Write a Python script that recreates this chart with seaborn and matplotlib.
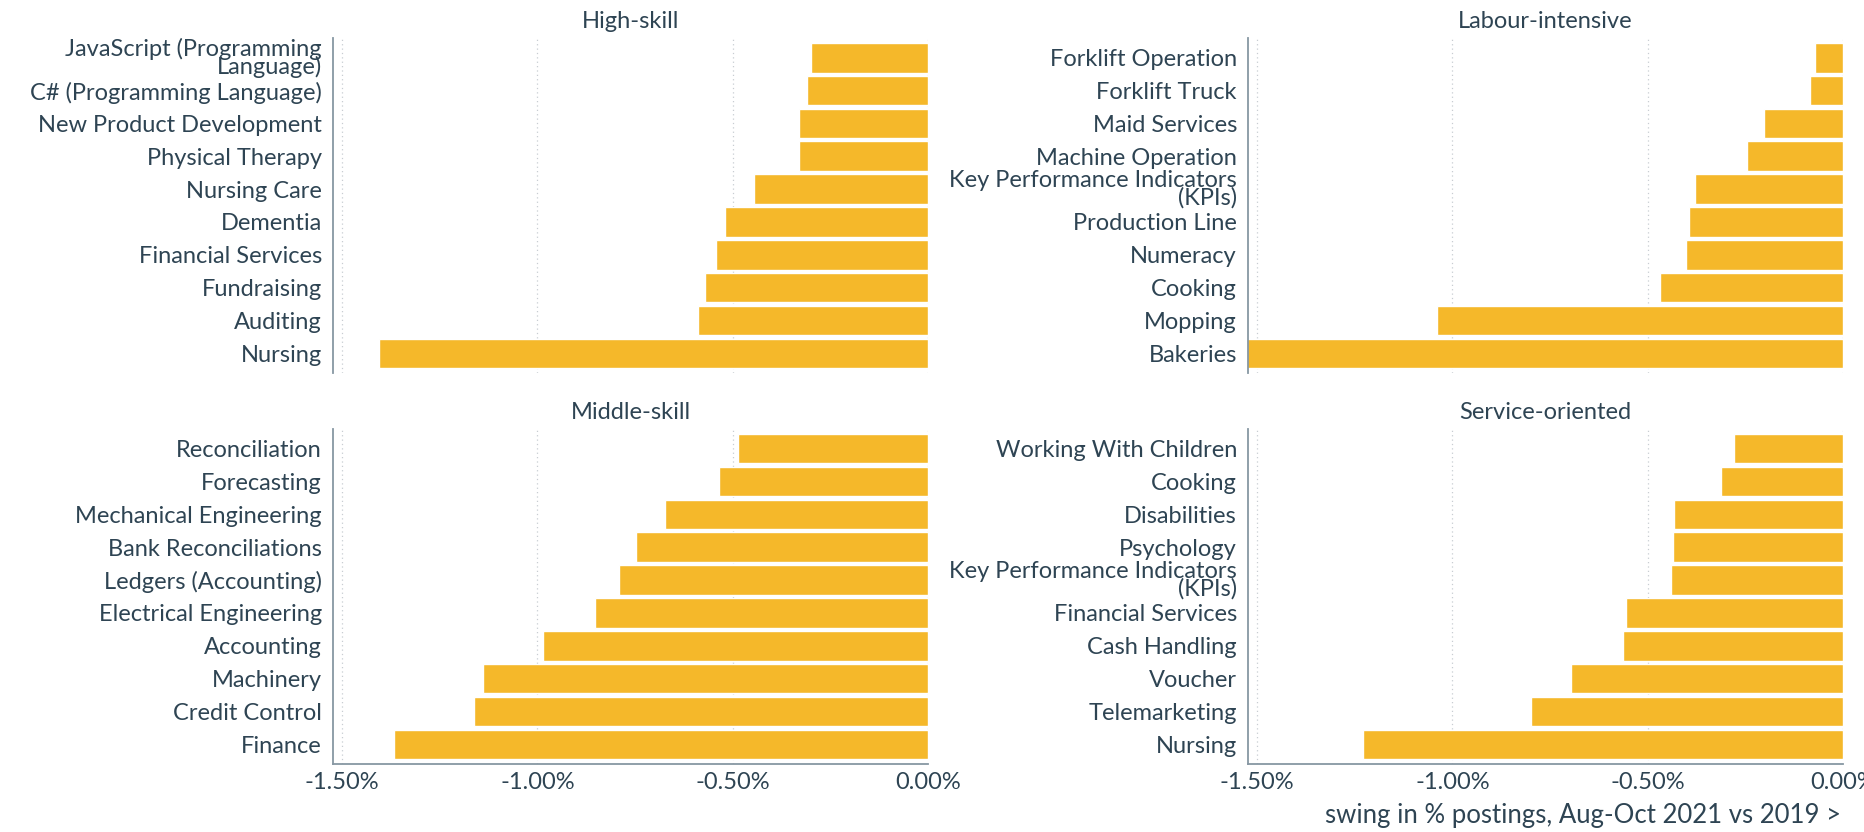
import matplotlib
matplotlib.use("Agg")
import matplotlib.pyplot as plt
import seaborn as sns
import pandas as pd

# ---- data ----
high_skill_labels = ["JavaScript (Programming\nLanguage)", "C# (Programming Language)",
                     "New Product Development", "Physical Therapy", "Nursing Care",
                     "Dementia", "Financial Services", "Fundraising", "Auditing", "Nursing"]
high_skill_values = [-0.30, -0.31, -0.33, -0.33, -0.445, -0.52, -0.542, -0.571, -0.589, -1.405]

labour_labels = ["Forklift Operation", "Forklift Truck", "Maid Services", "Machine Operation",
                 "Key Performance Indicators\n(KPIs)", "Production Line", "Numeracy",
                 "Cooking", "Mopping", "Bakeries"]
labour_values = [-0.072, -0.085, -0.202, -0.245, -0.378, -0.394, -0.403, -0.468, -1.04, -1.56]

middle_labels = ["Reconciliation", "Forecasting", "Mechanical Engineering",
                 "Bank Reconciliations", "Ledgers (Accounting)", "Electrical Engineering",
                 "Accounting", "Machinery", "Credit Control", "Finance"]
middle_values = [-0.487, -0.535, -0.674, -0.748, -0.79, -0.853, -0.986, -1.14, -1.161, -1.366]

service_labels = ["Working With Children", "Cooking", "Disabilities", "Psychology",
                  "Key Performance Indicators\n(KPIs)", "Financial Services", "Cash Handling",
                  "Voucher", "Telemarketing", "Nursing"]
service_values = [-0.28, -0.312, -0.432, -0.435, -0.44, -0.555, -0.562, -0.695, -0.798, -1.229]

panel_titles = ["High-skill", "Labour-intensive", "Middle-skill", "Service-oriented"]
x_ticks = [-1.5, -1.0, -0.5, 0.0]
x_tick_labels = ["-1.50%", "-1.00%", "-0.50%", "0.00%"]
x_label = "swing in % postings, Aug-Oct 2021 vs 2019 >"

# ---- style ----
sns.set_theme(style="white")
plt.rcParams["font.family"] = ["Lato", "DejaVu Sans"]
TEXT = "#2E4453"
SPINE = "#8797A3"
BAR = "#F5B82A"
FS = 17

fig, axes = plt.subplots(2, 2, figsize=(18.64, 8.32), dpi=100)
fig.subplots_adjust(left=0.1787, right=0.9887, top=0.9543, bottom=0.0817,
                    wspace=0.538, hspace=0.167)

panels = [(high_skill_labels, high_skill_values),
          (labour_labels, labour_values),
          (middle_labels, middle_values),
          (service_labels, service_values)]

for i, (ax, (labels, values), title) in enumerate(zip(axes.flat, panels, panel_titles)):
    df = pd.DataFrame({"label": labels, "value": values})
    sns.barplot(data=df, x="value", y="label", ax=ax, color=BAR, saturation=1,
                width=0.9, orient="h")
    ax.set_xlim(-1.523, 0)
    ax.set_ylim(9.6, -0.6)
    ax.set_axisbelow(True)
    ax.set_xticks(x_ticks)
    ax.xaxis.grid(True, linestyle=(0, (1, 2.5)), color="#C8CDD2", linewidth=0.9)
    ax.yaxis.grid(False)
    ax.set_xlabel("")
    ax.set_ylabel("")
    ax.set_title(title, fontsize=FS, color=TEXT, pad=7)
    for s in ["top", "right"]:
        ax.spines[s].set_visible(False)
    ax.spines["left"].set_color(SPINE)
    ax.spines["left"].set_linewidth(1.3)
    ax.tick_params(axis="both", length=0, colors=TEXT, labelsize=FS)
    ax.tick_params(axis="y", pad=8)
    ax.tick_params(axis="x", pad=6)
    for t in ax.get_yticklabels():
        t.set_linespacing(0.8)
        t.set_color(TEXT)
    if i < 2:
        ax.spines["bottom"].set_visible(False)
        ax.set_xticklabels([])
    else:
        ax.spines["bottom"].set_color(SPINE)
        ax.spines["bottom"].set_linewidth(1.3)
        ax.set_xticklabels(x_tick_labels, color=TEXT, fontsize=FS)

fig.text(0.9877, 0.0204, x_label, ha="right", va="center", fontsize=18.5, color=TEXT)

fig.savefig("out.png", dpi=100, facecolor="white")
